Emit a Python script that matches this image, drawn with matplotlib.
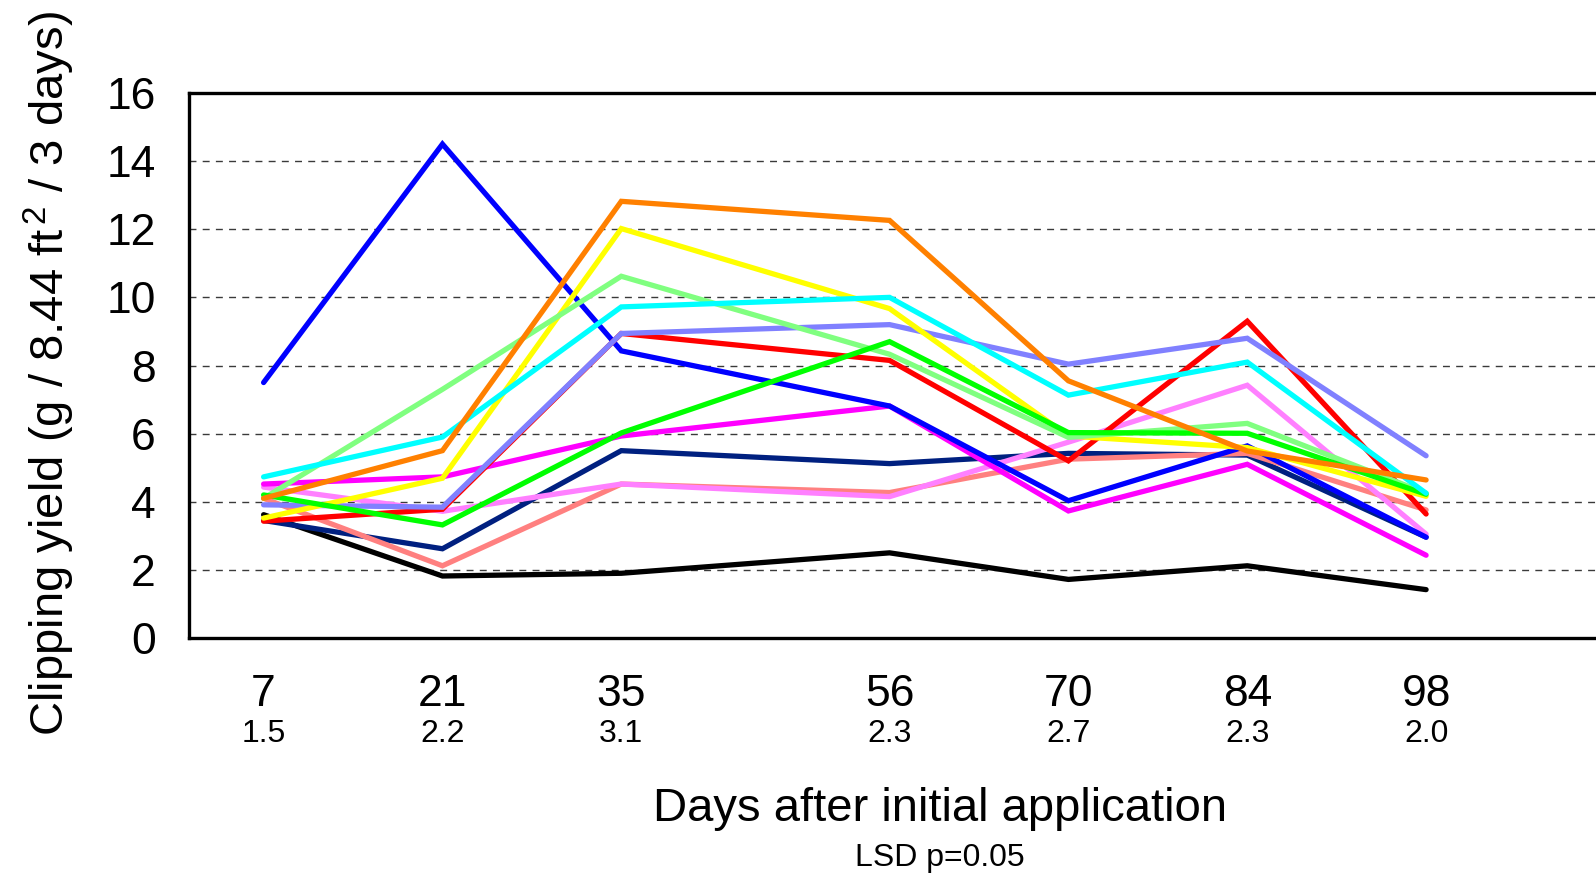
import matplotlib
matplotlib.use("Agg")
import matplotlib.pyplot as plt

plt.rcParams['font.family'] = ['Liberation Sans', 'DejaVu Sans']
plt.rcParams['mathtext.fontset'] = 'custom'
plt.rcParams['mathtext.rm'] = 'Liberation Sans'
plt.rcParams['mathtext.it'] = 'Liberation Sans'
plt.rcParams['lines.scale_dashes'] = False

days = [7, 21, 35, 56, 70, 84, 98]
lsd = ["1.5", "2.2", "3.1", "2.3", "2.7", "2.3", "2.0"]

black      = [3.62, 1.82, 1.90, 2.50, 1.72, 2.12, 1.42]
navy       = [3.45, 2.62, 5.50, 5.12, 5.42, 5.37, 2.96]
salmon     = [4.10, 2.12, 4.52, 4.27, 5.25, 5.42, 3.76]
pink       = [4.43, 3.72, 4.52, 4.15, 5.75, 7.42, 3.05]
magenta    = [4.52, 4.73, 5.93, 6.81, 3.73, 5.10, 2.43]
blue       = [7.50, 14.50, 8.43, 6.81, 4.03, 5.64, 2.96]
red        = [3.43, 3.78, 8.94, 8.15, 5.20, 9.30, 3.64]
periwinkle = [3.91, 3.84, 8.94, 9.20, 8.04, 8.80, 5.35]
yellow     = [3.52, 4.69, 12.02, 9.67, 5.93, 5.59, 4.16]
lightgreen = [4.10, 7.30, 10.62, 8.33, 5.89, 6.30, 4.25]
green      = [4.20, 3.32, 6.02, 8.70, 6.03, 6.01, 4.22]
cyan       = [4.73, 5.90, 9.72, 10.00, 7.13, 8.10, 4.25]
orange     = [4.10, 5.50, 12.82, 12.26, 7.55, 5.49, 4.64]

series = [
    (black, '#000000'),
    (navy, '#002080'),
    (salmon, '#ff8080'),
    (pink, '#ff80ff'),
    (magenta, '#ff00ff'),
    (blue, '#0000ff'),
    (red, '#ff0000'),
    (periwinkle, '#8080ff'),
    (yellow, '#ffff00'),
    (lightgreen, '#80ff80'),
    (green, '#00ff00'),
    (cyan, '#00ffff'),
    (orange, '#ff8000'),
]

W, H = 1596, 876
fig = plt.figure(figsize=(W / 100, H / 100), dpi=100)
left, top, bottom = 189, 93, 638
ax = fig.add_axes([left / W, 1 - bottom / H, 1 - left / W, (bottom - top) / H])

for vals, col in series:
    ax.plot(days, vals, color=col, lw=3.8, solid_capstyle='round',
            solid_joinstyle='miter', zorder=3)

ax.set_xlim(1.16, 111.3)
ax.set_ylim(0, 16)
ax.set_yticks(range(0, 17, 2))
for yv in range(2, 16, 2):
    ax.axhline(yv, color='#3a3a3a', lw=1.0, linestyle=(0, (5, 4.5)), zorder=1)

ax.spines['right'].set_visible(False)
for s in ['left', 'top', 'bottom']:
    ax.spines[s].set_linewidth(2.4)

ax.tick_params(axis='y', length=0, pad=24, labelsize=32)
ax.set_xticks(days)
ax.set_xticklabels([str(d) for d in days])
ax.tick_params(axis='x', length=0, pad=26, labelsize=32)

for d, s in zip(days, lsd):
    ax.text(d, -0.176, s, transform=ax.get_xaxis_transform(),
            ha='center', va='center', fontsize=23)

fig.text(940 / W, 1 - 809 / H, "Days after initial application",
         ha='center', va='center', fontsize=34)
fig.text(940 / W, 1 - 858 / H, "LSD p=0.05",
         ha='center', va='center', fontsize=23)
fig.text(49 / W, 1 - 374 / H, r"Clipping yield (g / 8.44 ft$^{\,2}$ / 3 days)",
         ha='center', va='center', rotation=90, fontsize=34)

fig.savefig("out.png", dpi=100, facecolor='white')
